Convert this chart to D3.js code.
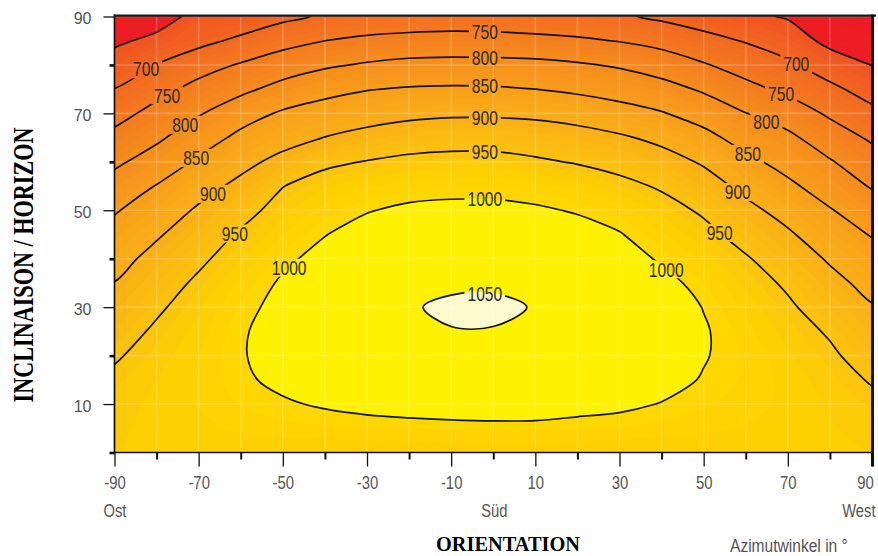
<!DOCTYPE html>
<html>
<head>
<meta charset="utf-8">
<script src="https://d3js.org/d3.v7.min.js"></script>
<style>
  body { margin: 0; background: #fff; }
  svg { display: block; }
  text { font-family: "Liberation Sans", Arial, sans-serif; }
</style>
</head>
<body>
<div id="chart"></div>
<script>
// azimuth columns (East = -90, South = 0, West = 90) and tilt rows
var azimuths = [-90, -80, -70, -60, -50, -40, -30, -20, -10, 0, 10, 20, 30, 40, 50, 60, 70, 80, 90];
var tilts = [0, 5, 10, 15, 20, 25, 30, 35, 40, 45, 50, 55, 60, 65, 70, 75, 80, 85, 90];

// yearly irradiation, one list per azimuth, values for tilt 0..90
var irradiation = [
  [970, 968, 964, 957, 946, 932, 917, 901, 884, 866, 846, 819, 791, 763, 733, 701, 671, 641, 611],
  [970, 973, 973, 970, 964, 956, 944, 930, 914, 895, 874, 852, 821, 792, 765, 735, 702, 662, 628],
  [970, 977, 981, 982, 980, 975, 968, 957, 942, 925, 906, 883, 857, 827, 796, 764, 732, 686, 665],
  [970, 982, 991, 996, 998, 997, 992, 983, 970, 955, 935, 911, 887, 861, 830, 789, 754, 710, 667],
  [970, 986, 997, 1006, 1011, 1012, 1009, 1004, 994, 980, 966, 949, 913, 883, 856, 816, 775, 734, 689],
  [970, 988, 1003, 1014, 1021, 1024, 1023, 1018, 1010, 999, 985, 969, 941, 901, 870, 836, 793, 750, 706],
  [970, 990, 1008, 1022, 1032, 1037, 1038, 1034, 1026, 1014, 998, 979, 952, 915, 880, 848, 805, 760, 715],
  [970, 991, 1012, 1028, 1040, 1046, 1048, 1045, 1037, 1025, 1007, 985, 960, 928, 888, 854, 813, 766, 719],
  [970, 992, 1015, 1031, 1043, 1049, 1054, 1046, 1038, 1026, 1010, 988, 963, 933, 893, 856, 815, 769, 721],
  [970, 993, 1016, 1032, 1043, 1049, 1054, 1047, 1038, 1026, 1010, 988, 963, 933, 893, 855, 814, 768, 719],
  [970, 993, 1015, 1030, 1040, 1046, 1049, 1043, 1034, 1021, 1005, 984, 956, 927, 890, 850, 812, 764, 715],
  [970, 991, 1010, 1024, 1033, 1038, 1039, 1035, 1026, 1014, 997, 976, 947, 916, 884, 841, 805, 757, 712],
  [970, 989, 1006, 1018, 1026, 1030, 1030, 1025, 1015, 1002, 986, 962, 935, 906, 868, 831, 795, 748, 706],
  [970, 986, 999, 1010, 1016, 1019, 1017, 1010, 996, 982, 966, 945, 918, 889, 853, 817, 778, 734, 692],
  [970, 982, 992, 998, 1002, 1003, 999, 990, 977, 962, 944, 920, 895, 864, 830, 794, 754, 715, 677],
  [970, 979, 985, 988, 988, 984, 977, 967, 954, 934, 912, 888, 861, 831, 801, 764, 730, 697, 660],
  [970, 975, 977, 976, 972, 965, 956, 944, 925, 906, 884, 859, 834, 810, 777, 739, 708, 675, 646],
  [970, 971, 969, 964, 956, 946, 930, 913, 895, 874, 853, 828, 804, 774, 743, 711, 675, 637, 603],
  [970, 966, 958, 947, 933, 918, 903, 886, 868, 847, 823, 796, 770, 743, 712, 680, 649, 618, 587]
];

var contourLevels = [650, 700, 750, 800, 850, 900, 950, 1000, 1050];
var xTickValues = [-90, -70, -50, -30, -10, 10, 30, 50, 70, 90];
var xMinorTicks = [-80, -60, -40, -20, 0, 20, 40, 60, 80];
var yTickValues = [10, 30, 50, 70, 90];
var yMinorTicks = [0, 20, 40, 60, 80];
var directionNames = ["Ost", "Süd", "West"];
var directionAzimuths = [-90, 0, 90];

// where the contour labels sit (azimuth along each contour)
var sideLabelLevels = [700, 750, 800, 850, 900, 950, 1000];
var leftLabelAzimuths = [-82.5, -77.5, -73.2, -70.6, -66.6, -61.4, -48.5];
var rightLabelAzimuths = [72, 68.4, 64.9, 60.5, 58.1, 53.8, 41.1];
var centerLabelLevels = [750, 800, 850, 900, 950, 1000, 1050];
var centerLabelAzimuth = -2;

(function() {
  var width = 878, height = 556;

  var svg = d3.select("#chart")
    .append("svg")
    .attr("width", width)
    .attr("height", height);

  var x = d3.scaleLinear().domain([-90, 90]).range([114.5, 872]);
  var y = d3.scaleLinear().domain([0, 90]).range([452.5, 16.5]);

  var nA = azimuths.length, nT = tilts.length;
  var aStep = azimuths[1] - azimuths[0], tStep = tilts[1] - tilts[0];

  // row-major grid for d3.contours
  var grid = [];
  tilts.forEach(function(t, j) {
    azimuths.forEach(function(a, i) { grid.push(irradiation[i][j]); });
  });

  var color = d3.scaleLinear()
    .domain([580, 640, 650, 700, 750, 800, 850, 900, 950, 970, 990])
    .range(["#ED1C24", "#EE1D24", "#F05522", "#F26A21", "#F47D20", "#F68E1E",
            "#F89F1B", "#FAB117", "#FCC50E", "#FDD002", "#FED600"]);

  function bandColor(th) {
    if (th >= 1050) return "#FFFACD";
    if (th >= 1000) return "#FFF200";
    return color(th);
  }

  var ringLine = d3.line()
    .x(function(p) { return x(azimuths[0] + (p[0] - 0.5) * aStep); })
    .y(function(p) { return y(tilts[0] + (p[1] - 0.5) * tStep); })
    .curve(d3.curveCatmullRomClosed.alpha(0.5));

  function contourPath(c) {
    return c.coordinates.map(function(poly) {
      return poly.map(function(ring) { return ringLine(ring.slice(0, -1)); }).join("");
    }).join("");
  }

  var defs = svg.append("defs");
  defs.append("clipPath").attr("id", "plot-clip")
    .append("rect")
    .attr("x", x(-90)).attr("y", y(90))
    .attr("width", x(90) - x(-90)).attr("height", y(0) - y(90));

  var mask = defs.append("mask").attr("id", "label-mask")
    .attr("maskUnits", "userSpaceOnUse")
    .attr("x", 0).attr("y", 0).attr("width", width).attr("height", height);
  mask.append("rect").attr("width", width).attr("height", height).attr("fill", "white");

  var plot = svg.append("g").attr("clip-path", "url(#plot-clip)");

  plot.append("rect")
    .attr("x", x(-90)).attr("y", y(90))
    .attr("width", x(90) - x(-90)).attr("height", y(0) - y(90))
    .attr("fill", color(580));

  // filled bands
  var bandThresholds = d3.range(580, 1000, 10).concat([1000, 1050]);
  var bands = d3.contours().size([nA, nT]).thresholds(bandThresholds)(grid);

  plot.selectAll(".band")
    .data(bands)
    .enter().append("path")
    .attr("class", "band")
    .attr("d", contourPath)
    .attr("fill", function(d) { return bandColor(d.value); })
    .attr("fill-rule", "evenodd")
    .attr("stroke", function(d) { return bandColor(d.value); })
    .attr("stroke-width", 0.6);

  // faint grid
  plot.selectAll(".vgrid")
    .data(x.ticks(18))
    .enter().append("line")
    .attr("x1", function(d) { return x(d); }).attr("x2", function(d) { return x(d); })
    .attr("y1", y(90)).attr("y2", y(0))
    .attr("stroke", "#fff").attr("stroke-opacity", 0.2).attr("stroke-width", 1.6);

  plot.selectAll(".hgrid")
    .data(y.ticks(9))
    .enter().append("line")
    .attr("x1", x(-90)).attr("x2", x(90))
    .attr("y1", function(d) { return y(d); }).attr("y2", function(d) { return y(d); })
    .attr("stroke", "#fff").attr("stroke-opacity", 0.2).attr("stroke-width", 1.6);

  // contour lines
  var lines = d3.contours().size([nA, nT]).thresholds(contourLevels)(grid);
  plot.append("g")
    .attr("mask", "url(#label-mask)")
    .selectAll(".iso")
    .data(lines)
    .enter().append("path")
    .attr("class", "iso")
    .attr("d", contourPath)
    .attr("fill", "none")
    .attr("stroke", "#111")
    .attr("stroke-width", 1.7);

  // contour labels
  function columnAt(az) {
    var k = Math.max(0, Math.min(nA - 2, Math.floor((az - azimuths[0]) / aStep)));
    var f = (az - azimuths[k]) / aStep;
    return tilts.map(function(t, j) {
      return irradiation[k][j] * (1 - f) + irradiation[k + 1][j] * f;
    });
  }

  function crossingTilt(level, az) {
    var col = columnAt(az);
    for (var j = nT - 2; j >= 0; j--) {
      if (col[j] >= level && col[j + 1] < level) {
        return tilts[j] + (col[j] - level) / (col[j] - col[j + 1]) * tStep;
      }
    }
    return null;
  }

  var labels = [];
  sideLabelLevels.forEach(function(level, i) {
    labels.push({ level: level, az: leftLabelAzimuths[i] });
    labels.push({ level: level, az: rightLabelAzimuths[i] });
  });
  centerLabelLevels.forEach(function(level) {
    labels.push({ level: level, az: centerLabelAzimuth });
  });

  var labelScale = 0.78;
  labels.forEach(function(d) {
    d.t = crossingTilt(d.level, d.az);
    if (d.t === null) return;
    var cx = x(d.az), cy = y(d.t);
    var txt = svg.append("text")
      .attr("transform", "translate(" + cx + "," + cy + ") scale(" + labelScale + ",1)")
      .attr("text-anchor", "middle")
      .attr("dy", "0.36em")
      .attr("font-size", 20)
      .attr("fill", "#2a2a2a")
      .text(d.level);
    var w = txt.node().getComputedTextLength() * labelScale;
    mask.append("rect")
      .attr("x", cx - w / 2 - 3).attr("y", cy - 9)
      .attr("width", w + 6).attr("height", 18)
      .attr("fill", "black");
  });

  // axes (plain hyphen for negatives, as in the original)
  var plainFormat = function(d) { return String(d); };

  var yAxis = svg.append("g")
    .attr("transform", "translate(" + x(-90) + ",0)")
    .call(d3.axisLeft(y).tickValues(yTickValues).tickSize(11).tickPadding(12).tickFormat(plainFormat));
  yAxis.select(".domain").remove();
  yAxis.selectAll("line").attr("stroke", "#111").attr("stroke-width", 1.3);
  yAxis.selectAll("text")
    .attr("font-size", 16).attr("fill", "#555").attr("dy", "0.46em")
    .style("font-family", "Liberation Sans, Arial, sans-serif");

  var yMinor = svg.append("g")
    .attr("transform", "translate(" + x(-90) + ",0)")
    .call(d3.axisLeft(y).tickValues(yMinorTicks).tickSize(5).tickFormat(""));
  yMinor.select(".domain").remove();
  yMinor.selectAll("line").attr("stroke", "#111").attr("stroke-width", 2.6);

  var xAxis = svg.append("g")
    .attr("transform", "translate(0," + y(0) + ")")
    .call(d3.axisBottom(x).tickValues(xTickValues).tickSize(14).tickPadding(10).tickFormat(plainFormat));
  xAxis.select(".domain").remove();
  xAxis.selectAll("line").attr("stroke", "#111").attr("stroke-width", 1.3);
  xAxis.selectAll("text")
    .attr("font-size", 17.5).attr("fill", "#555")
    .attr("transform", "scale(0.85,1)")
    .style("font-family", "Liberation Sans, Arial, sans-serif");
  // last label sits flush against the right edge
  xAxis.selectAll("text")
    .filter(function(d) { return d === xTickValues[xTickValues.length - 1]; })
    .attr("text-anchor", "end")
    .attr("x", 1.5);

  var xMinor = svg.append("g")
    .attr("transform", "translate(0," + y(0) + ")")
    .call(d3.axisBottom(x).tickValues(xMinorTicks).tickSize(7).tickFormat(""));
  xMinor.select(".domain").remove();
  xMinor.selectAll("line").attr("stroke", "#111").attr("stroke-width", 2);

  // frame
  svg.append("line")
    .attr("x1", x(-90)).attr("x2", x(-90)).attr("y1", 14.5).attr("y2", y(0) + 0.8)
    .attr("stroke", "#111").attr("stroke-width", 1.7);
  svg.append("line")
    .attr("x1", x(-90) - 0.8).attr("x2", x(90) + 1.5).attr("y1", y(0)).attr("y2", y(0))
    .attr("stroke", "#111").attr("stroke-width", 1.7);
  svg.append("line")
    .attr("x1", x(-90) - 0.8).attr("x2", 876).attr("y1", 15.6).attr("y2", 15.6)
    .attr("stroke", "#1a1a1a").attr("stroke-width", 2.4);
  svg.append("line")
    .attr("x1", x(90) + 0.5).attr("x2", x(90) + 0.5).attr("y1", 14.5).attr("y2", y(0) + 14)
    .attr("stroke", "#111").attr("stroke-width", 3);

  // compass direction names under the axis
  directionNames.forEach(function(name, i) {
    var a = directionAzimuths[i];
    var anchor = i === 0 ? "start" : (i === directionNames.length - 1 ? "end" : "middle");
    var px = i === 0 ? x(a) - 11 : (i === directionNames.length - 1 ? x(a) + 3.5 : x(a) + 1);
    svg.append("text")
      .attr("transform", "translate(" + px + ",517) scale(0.82,1)")
      .attr("text-anchor", anchor)
      .attr("font-size", 18)
      .attr("fill", "#555")
      .text(name);
  });

  svg.append("text")
    .attr("transform", "translate(508,551) scale(0.97,1)")
    .attr("text-anchor", "middle")
    .attr("font-size", 21)
    .attr("font-weight", "bold")
    .attr("fill", "#000")
    .style("font-family", "Liberation Serif, Times New Roman, serif")
    .text("ORIENTATION");

  svg.append("text")
    .attr("transform", "translate(730,552) scale(0.82,1)")
    .attr("font-size", 19)
    .attr("fill", "#555")
    .text("Azimutwinkel in °");

  svg.append("text")
    .attr("transform", "translate(33,265) rotate(-90) scale(0.74,1)")
    .attr("text-anchor", "middle")
    .attr("font-size", 30)
    .attr("font-weight", "bold")
    .attr("fill", "#000")
    .style("font-family", "Liberation Serif, Times New Roman, serif")
    .text("INCLINAISON / HORIZON");
})();
</script>
</body>
</html>
